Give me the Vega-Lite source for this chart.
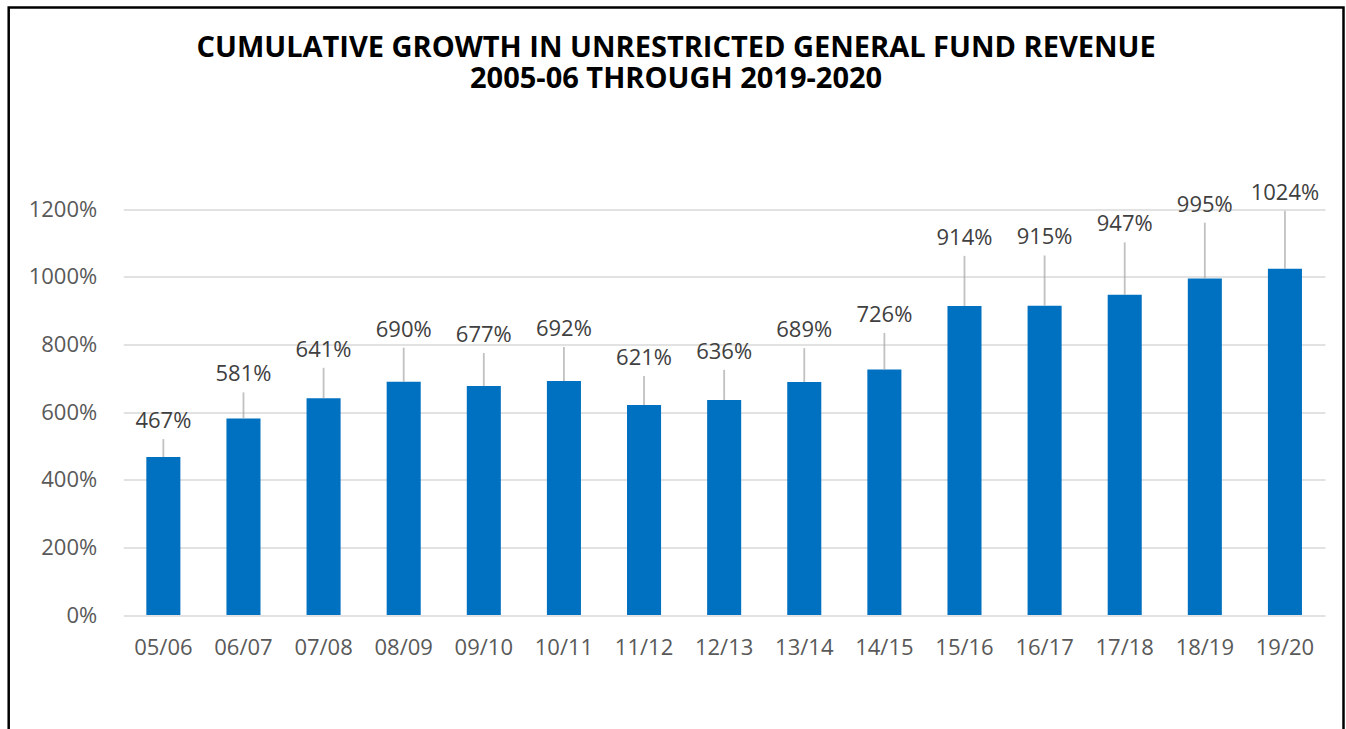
{
  "$schema": "https://vega.github.io/schema/vega-lite/v6.json",
  "width": 1334.8,
  "height": 730,
  "autosize": {"type": "none"},
  "padding": {"left": 8.7, "top": 7.5, "right": 2.5, "bottom": -8.5},
  "background": "#ffffff",
  "title": {
    "text": ["CUMULATIVE GROWTH IN UNRESTRICTED GENERAL FUND REVENUE", "2005-06 THROUGH 2019-2020"],
    "anchor": "middle",
    "frame": "group",
    "font": "Open Sans",
    "fontSize": 29,
    "fontWeight": "bold",
    "color": "#000000",
    "lineHeight": 30.5,
    "baseline": "top",
    "offset": -86
  },
  "config": {
    "view": {"stroke": "#000000", "strokeWidth": 2.5},
    "font": "Open Sans"
  },
  "data": {
    "values": [
      {"period": "05/06", "growth": 4.67},
      {"period": "06/07", "growth": 5.81},
      {"period": "07/08", "growth": 6.41},
      {"period": "08/09", "growth": 6.90},
      {"period": "09/10", "growth": 6.77},
      {"period": "10/11", "growth": 6.92},
      {"period": "11/12", "growth": 6.21},
      {"period": "12/13", "growth": 6.36},
      {"period": "13/14", "growth": 6.89},
      {"period": "14/15", "growth": 7.26},
      {"period": "15/16", "growth": 9.14},
      {"period": "16/17", "growth": 9.15},
      {"period": "17/18", "growth": 9.47},
      {"period": "18/19", "growth": 9.95},
      {"period": "19/20", "growth": 10.24}
    ]
  },
  "layer": [
    {
      "mark": {"type": "bar", "color": "#0070C0"},
      "encoding": {
        "x": {
          "field": "period",
          "type": "nominal",
          "sort": null,
          "scale": {"range": [114.6, 1316.3], "paddingInner": 0.575, "paddingOuter": 0.2875},
          "axis": {
            "orient": "bottom",
            "offset": -122.5,
            "domain": false,
            "ticks": false,
            "grid": false,
            "labelPadding": 22,
            "labelAngle": 0,
            "labelFont": "Open Sans",
            "labelFontSize": 22,
            "labelColor": "#595959",
            "title": null
          }
        },
        "y": {
          "field": "growth",
          "type": "quantitative",
          "scale": {"domain": [0, 12], "range": [607.5, 201.8], "nice": false, "zero": true},
          "axis": {
            "values": [0, 2, 4, 6, 8, 10, 12],
            "format": ".0%",
            "offset": -114.6,
            "domain": false,
            "ticks": false,
            "labelPadding": 26.6,
            "labelFont": "Open Sans",
            "labelFontSize": 22,
            "labelColor": "#595959",
            "grid": true,
            "gridColor": "#D9D9D9",
            "gridWidth": 1.5,
            "title": null
          }
        }
      }
    },
    {
      "mark": {"type": "tick", "orient": "vertical", "thickness": 1.8, "color": "#A6A6A6"},
      "encoding": {
        "x": {"field": "period", "type": "nominal", "sort": null},
        "y": {
          "field": "growth",
          "type": "quantitative",
          "scale": {"domain": [4.67, 10.24], "range": [440.6, 232.3], "nice": false, "zero": false},
          "axis": null
        },
        "size": {
          "field": "growth",
          "type": "quantitative",
          "scale": {"domain": [4.67, 10.24], "range": [18, 58], "zero": false, "nice": false},
          "legend": null
        }
      }
    },
    {
      "mark": {"type": "text", "font": "Open Sans", "fontSize": 22, "color": "#404040", "baseline": "middle", "align": "center"},
      "encoding": {
        "x": {"field": "period", "type": "nominal", "sort": null},
        "y": {
          "field": "growth",
          "type": "quantitative",
          "scale": {"domain": [4.67, 10.24], "range": [413.6, 185.3], "nice": false, "zero": false},
          "axis": null
        },
        "text": {"field": "growth", "type": "quantitative", "format": ".0%"}
      }
    }
  ],
  "resolve": {"scale": {"y": "independent", "size": "independent"}}
}
